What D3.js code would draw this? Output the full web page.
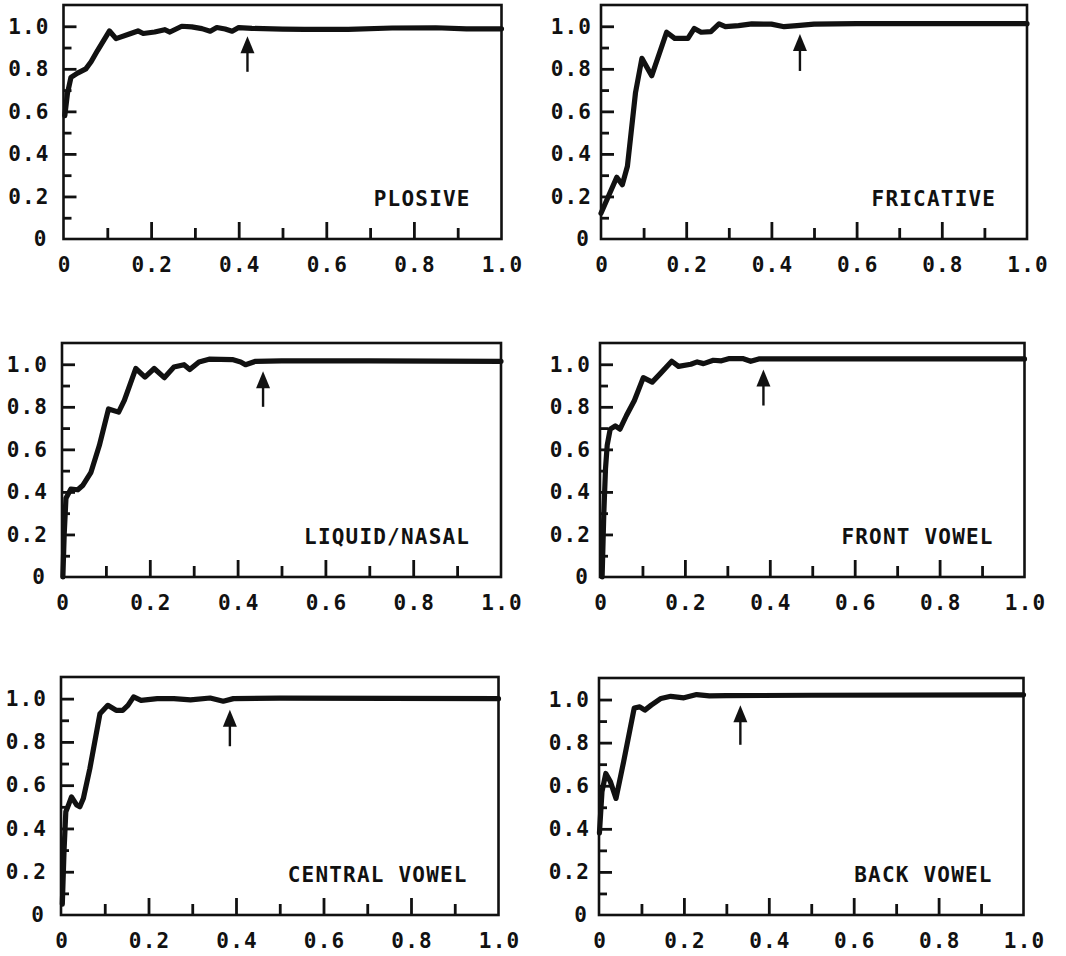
<!DOCTYPE html>
<html>
<head>
<meta charset="utf-8">
<script src="https://cdn.jsdelivr.net/npm/d3@7"></script>
<style>
  html, body { margin: 0; padding: 0; background: #fff; }
  svg { display: block; }
  text { font-family: "DejaVu Sans Mono", "Liberation Mono", monospace; font-weight: bold; fill: #111; }
</style>
</head>
<body>
<svg id="chart" width="1066" height="956"></svg>
<script>
// Panel titles, one per phoneme class
const categories = ["PLOSIVE", "FRICATIVE", "LIQUID/NASAL", "FRONT VOWEL", "CENTRAL VOWEL", "BACK VOWEL"];

// Curves as [x, y] pairs
const plosive = [
  [0.003, 0.58], [0.009, 0.684], [0.017, 0.76], [0.032, 0.78], [0.051, 0.80], [0.063, 0.833],
  [0.078, 0.887], [0.105, 0.978], [0.12, 0.942], [0.147, 0.961], [0.17, 0.978], [0.182, 0.966],
  [0.208, 0.973], [0.231, 0.984], [0.243, 0.973], [0.27, 1.0], [0.293, 0.997], [0.316, 0.989],
  [0.335, 0.977], [0.35, 0.994], [0.369, 0.987], [0.385, 0.977], [0.40, 0.994], [0.43, 0.99],
  [0.5, 0.987], [0.55, 0.985], [0.65, 0.985], [0.75, 0.992], [0.85, 0.993], [0.92, 0.988], [1.0, 0.988]
];
const fricative = [
  [0.0, 0.121], [0.019, 0.208], [0.037, 0.29], [0.05, 0.255], [0.062, 0.342], [0.081, 0.688],
  [0.096, 0.849], [0.119, 0.767], [0.154, 0.972], [0.173, 0.943], [0.204, 0.943], [0.219, 0.99],
  [0.235, 0.972], [0.258, 0.975], [0.277, 1.011], [0.292, 0.998], [0.323, 1.003], [0.354, 1.011],
  [0.40, 1.01], [0.43, 0.998], [0.46, 1.003], [0.5, 1.01], [0.6, 1.012], [0.8, 1.012], [1.0, 1.012]
];
const liquidNasal = [
  [0.002, 0.0], [0.005, 0.2], [0.009, 0.37], [0.02, 0.413], [0.036, 0.41], [0.047, 0.43],
  [0.066, 0.492], [0.085, 0.618], [0.106, 0.79], [0.129, 0.775], [0.142, 0.83], [0.168, 0.98],
  [0.189, 0.94], [0.21, 0.98], [0.233, 0.937], [0.255, 0.987], [0.278, 0.998], [0.291, 0.975],
  [0.312, 1.011], [0.335, 1.024], [0.388, 1.022], [0.407, 1.011], [0.418, 0.998], [0.441, 1.014],
  [0.5, 1.016], [0.7, 1.016], [1.0, 1.014]
];
const frontVowel = [
  [0.005, 0.0], [0.009, 0.3], [0.013, 0.51], [0.017, 0.62], [0.024, 0.695], [0.036, 0.71],
  [0.047, 0.695], [0.062, 0.758], [0.081, 0.83], [0.102, 0.937], [0.123, 0.916], [0.142, 0.956],
  [0.169, 1.014], [0.185, 0.99], [0.214, 1.0], [0.229, 1.011], [0.244, 1.003], [0.267, 1.019],
  [0.286, 1.016], [0.305, 1.027], [0.336, 1.027], [0.355, 1.014], [0.374, 1.025], [0.5, 1.025],
  [1.0, 1.025]
];
const centralVowel = [
  [0.003, 0.05], [0.007, 0.3], [0.011, 0.477], [0.017, 0.508], [0.024, 0.546], [0.036, 0.508],
  [0.043, 0.5], [0.051, 0.538], [0.066, 0.677], [0.089, 0.93], [0.107, 0.969], [0.126, 0.946],
  [0.141, 0.946], [0.153, 0.969], [0.166, 1.008], [0.183, 0.992], [0.22, 1.0], [0.258, 1.0],
  [0.296, 0.994], [0.341, 1.003], [0.371, 0.988], [0.394, 1.0], [0.5, 1.002], [1.0, 1.0]
];
const backVowel = [
  [0.001, 0.38], [0.007, 0.572], [0.016, 0.657], [0.027, 0.618], [0.04, 0.541], [0.058, 0.711],
  [0.083, 0.961], [0.096, 0.966], [0.108, 0.951], [0.123, 0.974], [0.146, 1.005], [0.169, 1.015],
  [0.2, 1.008], [0.23, 1.023], [0.26, 1.017], [0.3, 1.018], [0.5, 1.02], [1.0, 1.022]
];
const series = [plosive, fricative, liquidNasal, frontVowel, centralVowel, backVowel];

// Arrow markers: x position, head tip and tail heights
const arrowX = [0.42, 0.467, 0.458, 0.385, 0.386, 0.333];
const arrowTip = [0.953, 0.964, 0.967, 0.975, 0.949, 0.974];
const arrowTail = [0.786, 0.79, 0.80, 0.806, 0.78, 0.79];

// Axis ticks
const majorTicks = [0, 0.2, 0.4, 0.6, 0.8, 1.0];
const minorTicks = [0.1, 0.3, 0.5, 0.7, 0.9];
const xTickLabels = ["0", "0.2", "0.4", "0.6", "0.8", "1.0"];
const yTickLabels = ["0", "0.2", "0.4", "0.6", "0.8", "1.0"];

// Panel frames in the 3 x 2 grid
const frames = [
  { left: 63.5, right: 501.5, top: 5,   bottom: 239, pad: 15 },
  { left: 601,  right: 1027,  top: 5,   bottom: 239, pad: 10 },
  { left: 62,   right: 501,   top: 343, bottom: 577, pad: 15 },
  { left: 600,  right: 1024.5, top: 343, bottom: 577, pad: 10 },
  { left: 61,   right: 498.5, top: 677, bottom: 915, pad: 15 },
  { left: 599,  right: 1023.5, top: 678, bottom: 915, pad: 10 }
];

const svg = d3.select("#chart");
const FS = 21;   // label font size
const LS = 1.2;  // letter spacing of the monospace labels

function styleAxis(g) {
  g.attr("font-family", null).attr("font-size", null);
  g.select(".domain").remove();
  g.selectAll(".tick line").attr("stroke", "#111").attr("stroke-width", 2.8);
  g.selectAll(".tick text")
    .style("font-size", FS + "px")
    .style("letter-spacing", LS + "px");
}

frames.forEach((f, i) => {
  const x = d3.scaleLinear().domain([0, 1]).range([f.left, f.right]);
  const y = d3.scaleLinear().domain([0, 1.1]).range([f.bottom, f.top]);
  const g = svg.append("g");

  // inward minor ticks
  g.append("g")
    .attr("transform", `translate(0,${f.bottom})`)
    .call(d3.axisBottom(x).tickValues(minorTicks).tickSize(-11).tickFormat(""))
    .call(styleAxis);
  g.append("g")
    .attr("transform", `translate(${f.left},0)`)
    .call(d3.axisLeft(y).tickValues(minorTicks).tickSize(-8).tickFormat(""))
    .call(styleAxis);

  // inward major ticks with labels
  const xa = g.append("g")
    .attr("transform", `translate(0,${f.bottom})`)
    .call(d3.axisBottom(x).tickValues(majorTicks).tickSize(-17).tickPadding(18)
      .tickFormat((d, k) => xTickLabels[k]))
    .call(styleAxis);
  xa.selectAll(".tick text").attr("dx", LS / 2);
  xa.selectAll(".tick").filter(d => d === 0 || d === 1).select("line").remove();

  const ya = g.append("g")
    .attr("transform", `translate(${f.left},0)`)
    .call(d3.axisLeft(y).tickValues(majorTicks.slice(1)).tickSize(-13).tickPadding(f.pad)
      .tickFormat((d, k) => yTickLabels[k + 1]))
    .call(styleAxis);
  ya.selectAll(".tick text").attr("dx", LS);
  // zero label on the left
  g.append("text")
    .attr("x", f.left - f.pad - 2 + LS)
    .attr("y", y(0))
    .attr("dy", "0.32em")
    .attr("text-anchor", "end")
    .style("font-size", FS + "px")
    .style("letter-spacing", LS + "px")
    .text(yTickLabels[0]);

  // frame
  g.append("rect")
    .attr("x", f.left).attr("y", f.top)
    .attr("width", f.right - f.left).attr("height", f.bottom - f.top)
    .attr("fill", "none").attr("stroke", "#111").attr("stroke-width", 2.6);

  // curve
  g.append("path")
    .datum(series[i])
    .attr("fill", "none")
    .attr("stroke", "#111")
    .attr("stroke-width", 5.2)
    .attr("stroke-linejoin", "round")
    .attr("stroke-linecap", "round")
    .attr("d", d3.line().x(d => x(d[0])).y(d => y(d[1])).curve(d3.curveLinear));

  // arrow
  const ax = x(arrowX[i]);
  const tipY = y(arrowTip[i]);
  const tailY = y(arrowTail[i]);
  g.append("line")
    .attr("x1", ax).attr("x2", ax)
    .attr("y1", tipY + 12).attr("y2", tailY)
    .attr("stroke", "#111").attr("stroke-width", 2.4);
  g.append("path")
    .attr("d", `M${ax},${tipY} L${ax - 7},${tipY + 17} L${ax + 7},${tipY + 17} Z`)
    .attr("fill", "#111");

  // panel title
  g.append("text")
    .attr("x", f.right - 32 + LS)
    .attr("y", f.bottom - 33)
    .attr("text-anchor", "end")
    .style("font-size", FS + "px")
    .style("letter-spacing", LS + "px")
    .text(categories[i]);
});
</script>
</body>
</html>
